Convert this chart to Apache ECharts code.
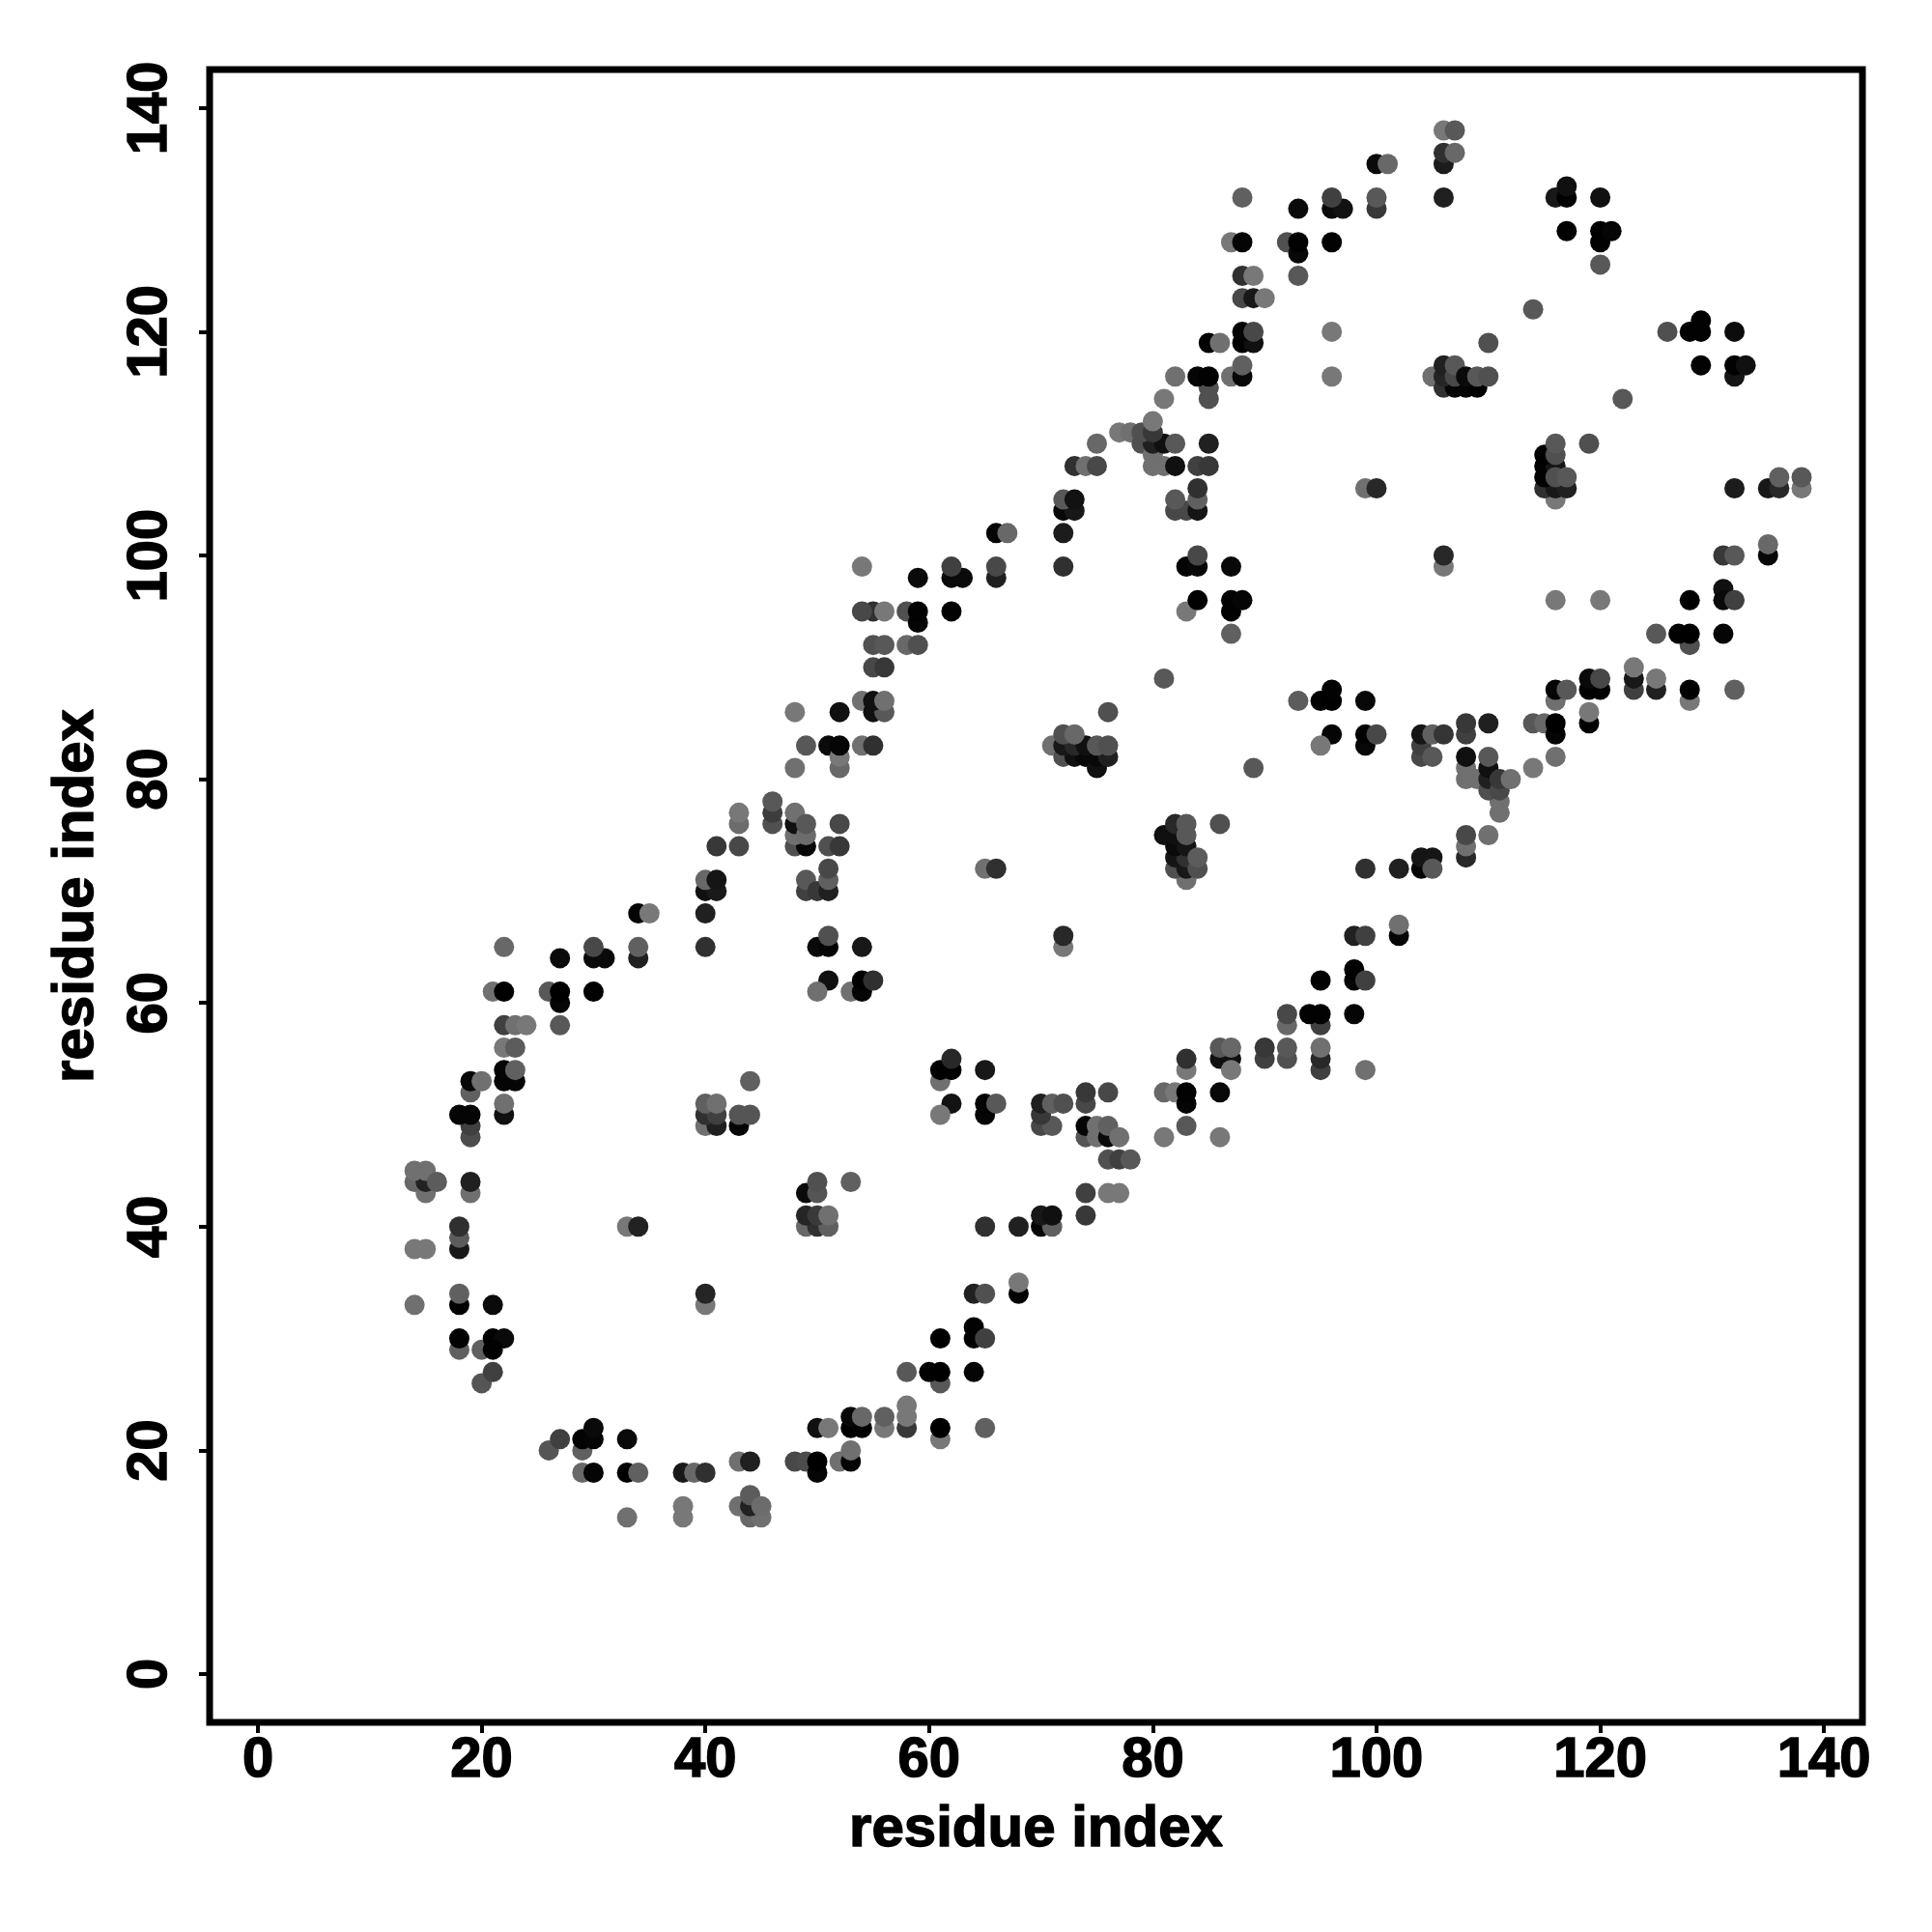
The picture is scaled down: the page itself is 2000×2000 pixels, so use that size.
<!DOCTYPE html>
<html>
<head>
<meta charset="utf-8">
<style>html,body{margin:0;padding:0;background:#fff}#c{width:2000px;height:2000px}</style>
<script src="https://cdn.jsdelivr.net/npm/echarts@6/dist/echarts.min.js"></script>
</head>
<body>
<div id="c"></div>
<script>
// Each contact: [residue index x, residue index y, grey level]
const axisTicks = [0, 20, 40, 60, 80, 100, 120, 140];
const axisTitle = 'residue index';

const contactsLowerLeft = [
[19,52,0x60],[19,53,8],[20,53,0x70],[22,53,5],[23,53,5],[22,54,5],[23,54,0x60],
[19,48,0x4c],[19,49,0x40],[18,50,5],[19,50,5],[22,50,0x10],[22,51,0x70],
[15,43,0x70],[14,44,0x68],[15,44,0x22],[14,45,0x70],[15,45,0x70],[16,44,0x5c],
[19,43,0x70],[19,44,0x20],[18,38,0x18],[18,39,0x5c],[18,40,0x30],[14,38,0x78],[15,38,0x78],
[14,33,0x70],[18,33,2],[18,34,0x60],[21,33,0x0a],[18,29,0x60],[18,30,2],[20,29,0x60],[21,30,2],[22,30,0x0a],[21,29,2],
[20,26,0x55],[21,27,0x40],[33,40,0x78],[34,40,0x22],[40,33,0x78],[40,34,0x25],
[40,49,0x70],[41,49,0x20],[40,50,0x30],[41,50,0x40],[40,51,0x60],[41,51,0x70],[43,49,5],[43,50,0x55],[44,50,0x55],[44,53,0x60],
[49,43,0x0a],[50,43,0x55],[50,44,0x50],[53,44,0x60],
[49,40,0x68],[50,40,0x30],[51,40,0x60],[49,41,0x25],[50,41,0x3a],[51,41,0x70]
];
const contactsBottomArc = [
[26,20,0x55],[27,21,0x40],[29,20,0x60],[29,21,3],[30,21,5],[30,22,0x0a],[29,18,0x68],[30,18,5],
[33,21,0x0a],[33,18,0],[34,18,0x60],[33,14,0x70],[38,18,0x18],[39,18,0x68],[40,18,0x30],[38,14,0x78],[38,15,0x78],
[43,19,0x70],[44,19,0x20],[48,19,0x48],[49,19,0x4c],[50,18,5],[50,19,0],[52,19,0x70],[53,19,5],[53,20,0x70],
[50,22,0x10],[51,22,0x78],[53,22,0],[54,22,3],[53,23,8],[54,23,0x68],
[44,14,0x68],[45,14,0x70],[43,15,0x70],[44,15,0x22],[44,16,0x5c],[45,15,0x6c]
];
const contactsUpperLeft = [
[54,99,0x78],[48,86,0x78],[52,86,0x10],[54,87,0x70],[49,83,0x58],[51,83,0x0a],[52,81,0x68],[52,82,0x78],[52,83,5],[54,83,0x70],[48,81,0x70],
[43,76,0x6c],[43,77,0x78],[41,74,0x38],[43,74,0x48],[46,76,0x50],[46,77,0x3c],[46,78,0x58],
[48,74,0x50],[49,74,8],[48,75,0x70],[48,76,0x10],[48,77,0x70],[49,75,0x6c],[49,76,0x58],[51,74,0x50],[52,74,0x38],[52,76,0x48],
[40,70,0x10],[41,70,0x1a],[40,71,0x68],[41,71,0x15],[49,70,0x40],[49,71,0x58],[50,70,0x38],[51,70,0x20],[51,71,0x60],[51,72,0x48],
[34,68,5],[35,68,0x78],[40,68,0x20],[22,65,0x68],[30,64,0x0a],[31,64,0x0a],[30,65,0x48],[34,64,0x20],[34,65,0x60],[40,65,0x30],[27,64,0x0a],
[50,65,0x0a],[51,65,5],[51,66,0x50],[54,65,0x18],[51,62,0x10],[50,61,0x70],[53,61,0x70],[54,61,5],[54,62,0],[55,62,0x30],
[21,61,0x70],[22,61,0],[26,61,0x58],[27,60,5],[27,61,0],[30,61,2],
[22,58,0x40],[23,58,0x70],[24,58,0x78],[27,58,0x58],[22,56,0x78],[23,56,0x5c]
];
const contactsCentre = [
[55,95,0x30],[54,95,0x48],[56,95,0x78],[58,95,0x50],[59,94,5],[59,95,2],[62,95,2],
[55,92,0x50],[56,92,0x58],[58,92,0x68],[59,92,0x50],[55,90,0x48],[56,90,0x38],
[55,86,0x10],[56,86,0x58],[55,87,0x10],[56,87,0x70],[55,83,0x30],
[71,83,0x70],[72,82,0x50],[73,82,0x10],[74,82,8],[75,81,0x10],[75,82,8],[72,83,0x18],[73,83,0x28],[74,83,0x10],[76,82,0x20],[72,84,0x50],[73,84,0x68],[75,83,0x58],[76,83,0x50],[76,86,0x50],
[89,81,0x58],[81,89,0x58],[83,95,0x78],[84,96,2],[87,95,2],[87,96,2],[88,96,5],[87,93,0x60],
[93,87,0x5c],[95,87,2],[96,87,0],[96,88,2],[96,84,5],[95,83,0x78],
[83,71,0x70],[82,72,0x50],[83,72,0x18],[82,73,0x15],[83,73,0x30],[81,75,0x10],[82,74,0x0a],[83,74,0x15],[82,75,0x10],[82,76,0x28],[83,75,0x58],[83,76,0x58],[84,72,0x50],[84,73,0x5c],[86,76,0x50],
[65,72,0x70],[66,72,0x30],[72,65,0x78],[72,66,0x28],
[92,58,0x68],[92,59,0x48],[95,58,0x40],[94,59,2],[95,59,2],[98,59,5],
[86,55,0x10],[87,55,0x10],[86,56,0x58],[87,56,0x68],[90,55,0x40],[90,56,0x38],[92,55,0x50],[92,56,0x58],[95,54,0x40],[95,55,0x28],[95,56,0x70],[95,62,2]
];
const contactsLowerArc = [
[61,53,0x70],[61,54,2],[62,54,2],[62,55,0x28],[65,54,0x18],[62,51,0x12],[61,50,0x78],[65,50,5],[65,51,2],[66,51,0x58],
[70,49,0x48],[71,49,0x58],[70,50,0x38],[70,51,0x20],[71,51,0x60],[72,51,0x50],[74,51,0x48],[74,52,0x38],[76,52,0x48],
[74,48,0x55],[74,49,5],[75,48,0x70],[75,49,0x70],[76,48,0x0a],[76,49,0x60],[77,48,0x70],
[76,46,0x50],[77,46,0x40],[78,46,0x58],[74,43,0x40],[76,43,0x78],[77,43,0x78],[74,41,0x38],
[70,40,5],[71,40,0x60],[70,41,0x18],[71,41,0x10],[65,40,0x30],[68,40,0x20],
[64,34,0x20],[65,34,0x50],[68,34,2],[68,35,0x78],[64,31,2],[64,30,2],[65,30,0x40],[61,30,0],
[58,27,0x58],[61,26,0x58],[60,27,2],[61,27,0],[64,27,5],
[56,22,0x78],[56,23,0x60],[58,22,0x38],[58,23,0x78],[58,24,0x78],[61,21,0x78],[61,22,0],[65,22,0x60],
[83,54,0x78],[83,55,0x30],[87,54,0x78],[81,52,0x68],[82,52,0x78],[83,51,5],[83,52,2],[86,52,8],[83,49,0x58],[81,48,0x78],[86,48,0x78]
];
const contactsLowerRight = [
[116,96,0x78],[120,96,0x78],[128,96,0],[131,97,0x10],[131,96,0x0a],[132,96,0x40],
[125,93,0x58],[128,92,0x50],[127,93,2],[128,93,0],[131,93,5],
[123,88,0x40],[123,89,0x18],[123,90,0x78],[125,88,0x20],[125,89,0x78],
[119,88,2],[120,88,2],[119,89,0x0a],[120,89,0x48],[116,87,0x70],[116,88,5],[117,88,0x58],
[128,87,0x78],[128,88,0],[132,88,0x60],[119,85,0],[119,86,0x78],
[114,85,0x58],[115,85,0x68],[116,84,5],[116,85,0],[116,82,0x70],[114,81,0x78],
[99,87,8],[99,83,8],[99,84,2],[100,84,0x48],
[104,82,0x48],[104,83,0x40],[104,84,0x15],[105,84,0x60],[106,84,0x35],[105,82,0x58],[108,84,0x40],[108,85,0x38],[110,85,0x20],
[108,80,0x70],[108,81,0x70],[109,80,0x70],[108,82,0x10],[111,77,0x70],[111,78,0x70],[110,79,0x50],[110,80,0x20],[110,81,0x10],[110,82,0x58],[111,79,0x48],[111,80,0x38],[112,80,0x70],
[108,73,0x28],[108,74,0x70],[108,75,0x48],[110,75,0x70],
[104,72,5],[104,73,0x15],[105,73,0x15],[105,72,0x58],[99,72,0x30],[102,72,0x20],
[102,66,5],[102,67,0x70],[98,66,0x20],[99,66,0x40],[98,62,5],[98,63,2],[99,62,0x40],[99,54,0x70]
];
const contactsUpperMiddle = [
[88,132,0x60],[93,131,0x0a],[96,131,0x0a],[97,131,0x12],[96,132,0x40],
[87,128,0x78],[88,128,5],[92,128,0x50],[93,127,8],[93,128,2],[96,128,2],[93,125,0x58],
[88,125,0x30],[89,125,0x78],[88,123,0x48],[89,123,0x18],[90,123,0x78],
[88,119,2],[89,119,0x10],[88,120,5],[89,120,0x48],[85,119,2],[86,119,0x70],[96,120,0x78],[96,116,0x78],
[85,114,0x50],[85,115,0x50],[82,116,0x70],[84,116,5],[85,116,2],[87,116,0x70],[88,116,8],[88,117,0x60],[81,114,0x78],
[77,111,0x78],[78,111,0x70],[79,110,0x50],[80,109,0x70],[80,110,0x20],[81,110,0x10],[79,111,0x50],[80,111,0x38],[80,112,0x78],[82,110,0x58],[80,108,0x70],[81,108,0x70],[82,108,0x10],
[75,110,0x68],[85,110,0x20],[73,108,0x30],[74,108,0x70],[75,108,0x48],[84,108,0x40],[85,108,0x38],
[82,104,0x48],[83,104,0x48],[84,104,0x15],[82,105,0x58],[84,105,0x60],[84,106,0x30],
[72,104,8],[73,104,0x18],[72,105,0x58],[73,105,0x12],[72,102,0x1c],[66,102,5],[67,102,0x68],
[72,99,0x30],[66,98,0x20],[66,99,0x48],[62,98,0x0a],[63,98,0x0a],[62,99,0x40],[59,98,0x0a],
[83,99,5],[84,99,8],[84,100,0x48],[87,99,8]
];
const contactsUpperRight = [
[106,138,0x78],[107,138,0x58],[106,135,0x1c],[106,136,0x30],[107,136,0x68],[100,135,0x0a],[101,135,0x68],
[100,131,0x38],[100,132,0x58],[106,132,0x20],[116,132,0x18],[117,132,2],[117,133,0x10],[120,132,0x10],
[117,129,2],[120,128,2],[120,129,0],[121,129,5],[120,126,0x58],[114,122,0x58],
[126,120,0x50],[128,120,2],[129,120,2],[129,121,2],[132,120,0x0c],
[129,117,2],[132,116,0x15],[132,117,2],[133,117,0x10],[122,114,0x58],[110,119,0x50],
[105,116,0x70],[106,115,0x30],[107,115,5],[108,115,5],[109,115,2],[106,116,0x25],[106,117,0x20],[107,116,0x48],[107,117,0x58],[108,116,0x0a],[109,116,0x58],[110,116,0x50],
[116,105,0x78],[115,106,0x30],[116,106,0x18],[117,106,0x20],[115,107,2],[115,108,2],[116,108,0x15],[115,109,0],[116,109,0x50],[116,110,0x58],[116,107,0x50],[117,107,0x58],[119,110,0x50],
[99,106,0x70],[100,106,0x28],[132,106,0x1c],[135,106,0x18],[136,106,0x28],[136,107,0x60],[138,106,0x78],[138,107,0x58],
[106,99,0x78],[106,100,0x28],[131,100,0x38],[132,100,0x58],[135,100,8],[135,101,0x68]
];

const contacts = [].concat(contactsLowerLeft, contactsBottomArc, contactsUpperLeft, contactsCentre,
  contactsLowerArc, contactsLowerRight, contactsUpperMiddle, contactsUpperRight);

const chart = echarts.init(document.getElementById('c'), null, {renderer: 'canvas', width: 2000, height: 2000});
const font = {fontFamily: '"Liberation Sans", Arial, sans-serif', fontWeight: 'bold', color: '#000', textBorderColor: '#000', textBorderWidth: 1.5};
function axis(extra) {
  return Object.assign({
    type: 'value', min: -4.32, max: 143.44,
    name: axisTitle, nameLocation: 'middle',
    nameTextStyle: Object.assign({fontSize: 60}, font),
    axisLine: {show: false, onZero: false},
    splitLine: {show: false},
    axisTick: {show: true, inside: false, length: 11, customValues: axisTicks, lineStyle: {color: '#000', width: 4}}
  }, extra);
}
chart.setOption({
  animation: false,
  backgroundColor: '#fff',
  grid: {left: 217, right: 72, top: 72, bottom: 217, show: true, borderWidth: 7, borderColor: '#000', backgroundColor: 'transparent'},
  xAxis: axis({
    nameGap: 81,
    axisLabel: Object.assign({fontSize: 58, margin: 11, customValues: axisTicks}, font)
  }),
  yAxis: axis({
    nameGap: 108, nameRotate: 90,
    axisLabel: Object.assign({fontSize: 58, margin: 32, rotate: 90, customValues: axisTicks}, font)
  }),
  series: [{
    type: 'scatter',
    data: contacts,
    symbol: 'circle',
    symbolSize: 21,
    large: false,
    progressive: 0,
    clip: false,
    itemStyle: {
      opacity: 1,
      color: function (p) { const g = p.value[2]; return 'rgb(' + g + ',' + g + ',' + g + ')'; }
    }
  }]
});
</script>
</body>
</html>
